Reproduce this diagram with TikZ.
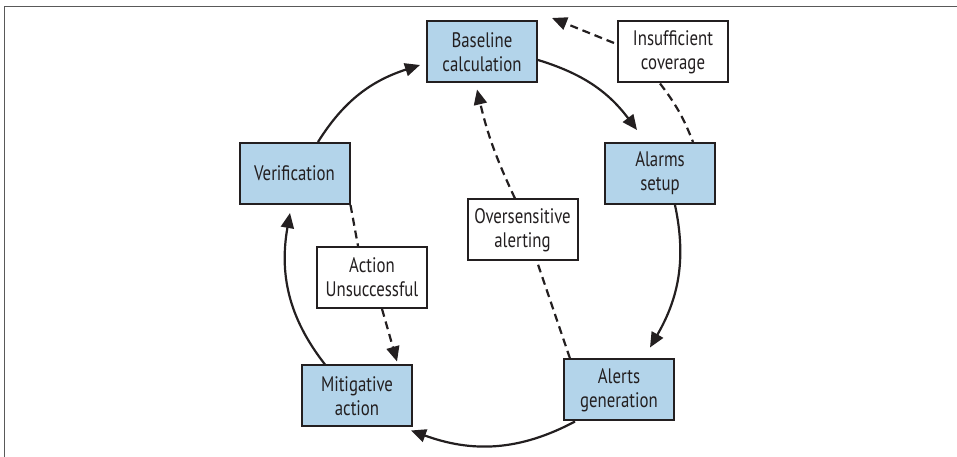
\documentclass[tikz,border=0pt]{standalone}
\usepackage{fontspec}
\setmainfont[FakeStretch=0.8]{PT Sans}
\usetikzlibrary{arrows.meta}
\definecolor{boxblue}{HTML}{B3D4EA}
\definecolor{ink}{HTML}{231F20}
\tikzset{
  stage/.style={draw=ink, line width=2pt, fill=boxblue, minimum width=110pt, minimum height=61pt,
    inner sep=0pt, align=center, text=ink, font=\fontsize{21}{24}\selectfont},
  note/.style={stage, fill=white},
  arr/.style={draw=ink, line width=2.2pt, -{Triangle[length=15pt,width=13pt]}},
  dline/.style={draw=ink, line width=2.2pt, dash pattern=on 8pt off 5pt},
  darr/.style={dline, -{Triangle[length=15pt,width=13pt]}},
  frame/.style={draw=black!65, line width=1pt}
}
\begin{document}
\begin{tikzpicture}[x=1pt,y=1pt]
\useasboundingbox (0,0) rectangle (957,457);
\draw[frame] (4.5,0) -- (4.5,450) -- (957,450);

\node[stage] (base) at (482,405) {Baseline\\calculation};
\node[note] (insuf) at (673,405) {Insufficient\\coverage};
\node[stage] (alarms) at (660,283.5) {Alarms\\setup};
\node[stage] (verif) at (294.5,283.5) {Verification};
\node[note] (over) at (522.5,227) {Oversensitive\\alerting};
\node[note] (action) at (372,179.5) {Action\\Unsuccessful};
\node[stage] (mitig) at (357,61) {Mitigative\\action};
\node[stage] (alerts) at (619,67) {Alerts\\generation};
\coordinate (topend) at (552,439);

% main cycle
\draw[arr] ([xshift=23.5pt]verif.north) to[out=58,in=198] ([xshift=-6pt,yshift=-13pt]base.west);
\draw[arr] ([yshift=-8pt]base.east) to[out=-17,in=127] ([xshift=-23pt,yshift=12pt]alarms.north);
\draw[arr] ([xshift=15pt]alarms.south) to[out=-78,in=60] ([xshift=31pt,yshift=11pt]alerts.north);
\draw[arr] ([xshift=-44pt]alerts.south) to[out=208,in=-20] ([xshift=-2pt,yshift=-3pt]mitig.south east);
\draw[arr] ([xshift=-32pt]mitig.north) to[out=128,in=260] ([xshift=-4.5pt,yshift=-8pt]verif.south);

% feedback paths
\draw[darr] ([xshift=-3pt,yshift=9pt]insuf.west) -- (topend);
\draw[dline] ([xshift=-13pt]insuf.south) to[bend left=8] ([xshift=33pt]alarms.north);
\draw[dline] ([xshift=-49pt]alerts.north) -- ([xshift=14.5pt]over.south);
\draw[darr] ([xshift=-7.5pt]over.north) to[bend left=6] ([xshift=-5pt,yshift=-6pt]base.south);
\draw[dline] (verif.south east) -- ([xshift=-14pt]action.north);
\draw[darr] ([xshift=10pt]action.south) -- ([xshift=40pt,yshift=3pt]mitig.north);
\end{tikzpicture}
\end{document}
